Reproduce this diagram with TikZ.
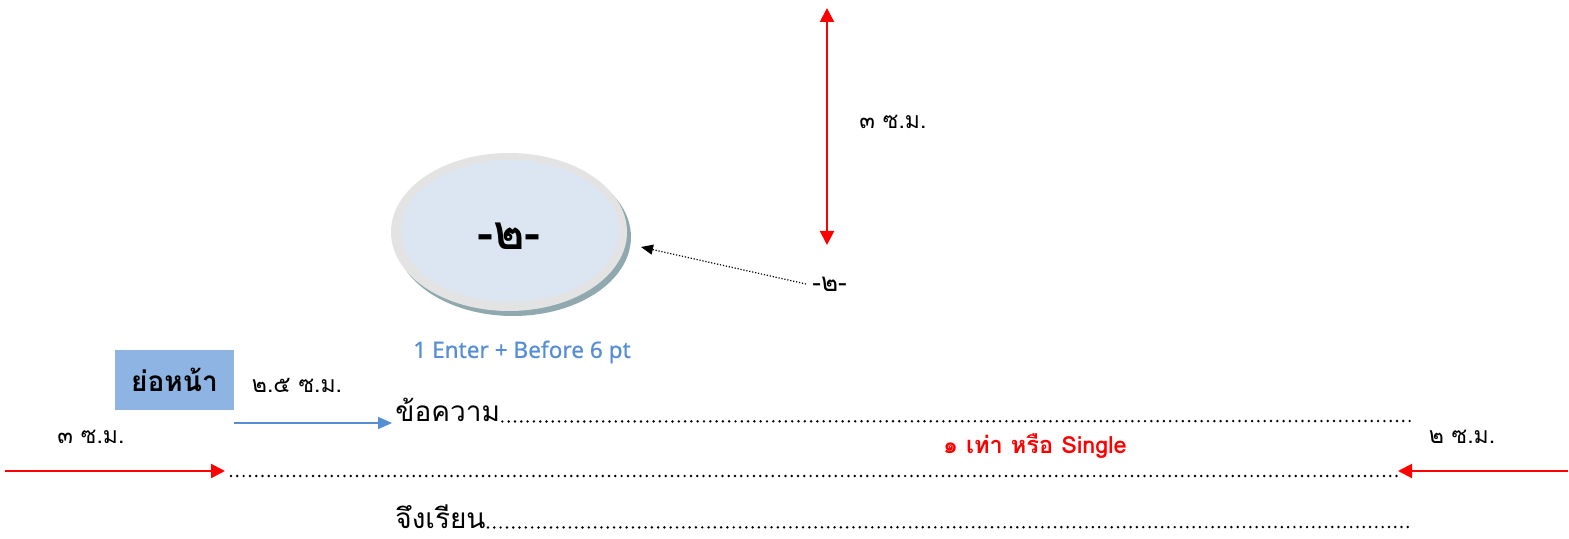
\documentclass[tikz,border=0pt]{standalone}
\usepackage{fontspec}
\setmainfont{Noto Sans}
\newfontfamily\thai[Script=Thai]{Loma}
\newfontfamily\capfont[FakeBold=0.6]{Noto Sans}
\usetikzlibrary{arrows.meta}
\definecolor{myred}{HTML}{FF0000}
\definecolor{myblue}{HTML}{558ED5}
\definecolor{boxblue}{HTML}{8EB4E3}
\definecolor{rimgrey}{HTML}{E3E3E3}
\definecolor{inblue}{HTML}{DCE6F2}
\definecolor{shadowc}{HTML}{8FA9AF}
\tikzset{
  redarrow/.style={draw=myred, line width=1pt, -{Triangle[length=7pt,width=7pt]}},
  redboth/.style={draw=myred, line width=1pt, {Triangle[length=7pt,width=7pt]}-{Triangle[length=7pt,width=7pt]}},
  bluearrow/.style={draw=myblue, line width=0.75pt, -{Triangle[length=7pt,width=6pt]}},
  dotarrow/.style={draw=black, line width=0.6pt, dash pattern=on 0.6pt off 0.9pt, -{Triangle[length=6pt,width=5pt]}},
  dotline/.style={draw=black, line width=1.35pt, line cap=round, dash pattern=on 0pt off 3.15pt},
  lbl/.style={inner sep=0pt, font=\thai\fontsize{11.5}{13}\selectfont},
  body/.style={inner sep=0pt, anchor=base west, font=\thai\fontsize{14}{16}\selectfont},
}
\begin{document}
\begin{tikzpicture}[x=0.5pt,y=-0.5pt]
\useasboundingbox (0,0) rectangle (1569,539);
% ellipse
\fill[shadowc] (513,237) ellipse [x radius=118, y radius=79];
\fill[rimgrey] (509,232) ellipse [x radius=118, y radius=79];
\fill[inblue] (510,231) ellipse [x radius=109, y radius=71];
\node[inner sep=0pt, font=\thai\bfseries\fontsize{24}{28}\selectfont] (pg) at (509,236) {-๒-};
% vertical red double arrow
\coordinate (vt) at (827,8);
\coordinate (vb) at (827,245);
\draw[redboth] (vt) -- (vb);
\node[lbl] (top3) at (893,122) {๓ ซ.ม.};
% dotted arrow
\node[lbl, anchor=west, font=\thai\fontsize{13}{15}\selectfont] (pn) at (812,284) {-๒-};
\coordinate (pe) at (641,247);
\draw[dotarrow] ([xshift=-3pt]pn.west) -- (pe);
% blue caption
\node[inner sep=0pt, text=myblue, font=\capfont\fontsize{11.3}{13}\selectfont] (cap) at (522,352) {1 Enter + Before 6 pt};
% indent box
\node[fill=boxblue, minimum width=59.5pt, minimum height=30pt, inner sep=0pt, font=\thai\bfseries\fontsize{14}{16}\selectfont] (box) at (174.5,380) {ย่อหน้า};
\node[lbl] (ind) at (297,385) {๒.๕ ซ.ม.};
\coordinate (ba) at (234,423);
\coordinate (bb) at (392,423);
\draw[bluearrow] (ba) -- (bb);
% body text
\node[body] (t1) at (395,422) {ข้อความ};
\coordinate (d1) at (1413,421);
\draw[dotline] ([xshift=1pt]t1.base east) ++(0,-0.5) -- (d1);
\node[body] (t2) at (395,528) {จึงเรียน};
\coordinate (d2) at (1411,527);
\draw[dotline] ([xshift=1pt]t2.base east) ++(0,-0.5) -- (d2);
\coordinate (m1) at (231,476);
\coordinate (m2) at (1397,476);
\draw[dotline] (m1) -- (m2);
% margin labels
\node[lbl] (l3) at (91,437) {๓ ซ.ม.};
\node[lbl] (r2) at (1462,437) {๒ ซ.ม.};
\node[inner sep=0pt, text=myred, font=\thai\bfseries\fontsize{11.8}{13}\selectfont] (single) at (1035,446) {๑ เท่า หรือ Single};
% red margin arrows
\coordinate (la) at (5,471);
\coordinate (lb) at (225,471);
\draw[redarrow] (la) -- (lb);
\coordinate (ra) at (1568,471);
\coordinate (rb) at (1398,471);
\draw[redarrow] (ra) -- (rb);
\end{tikzpicture}
\end{document}
